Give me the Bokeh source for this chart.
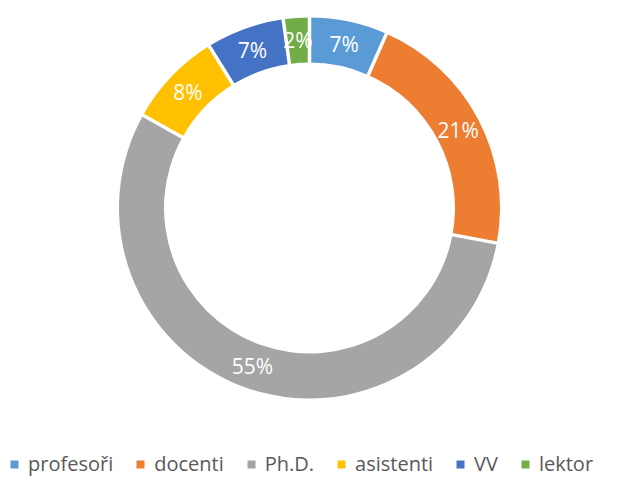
import math
from bokeh.plotting import figure
from bokeh.models import Range1d, ColumnDataSource, Legend, LegendItem
from bokeh.core.properties import value
from bokeh.embed import file_html
from bokeh.resources import INLINE

categories = ["profesoři", "docenti", "Ph.D.", "asistenti", "VV", "lektor"]
counts = [9, 29, 75, 11, 9, 3]
colors = ["#5B9BD5", "#ED7D31", "#A5A5A5", "#FFC000", "#4472C4", "#70AD47"]

W, H = 601, 477
p = figure(width=W, height=H, output_backend="svg", toolbar_location=None,
           x_range=Range1d(0, W), y_range=Range1d(0, H),
           x_axis_location=None, y_axis_location=None, min_border=0)
p.grid.visible = False
p.outline_line_color = None
p.background_fill_color = "white"

cx, cy = 309, H - 207.5
r_out, r_in = 190.5, 145.5
r_lab = 168

total = float(sum(counts))
starts, ends, lx, ly, labels = [], [], [], [], []
cum = 0.0
for c in counts:
    f0 = cum / total
    cum += c
    f1 = cum / total
    starts.append(math.pi / 2 - 2 * math.pi * f0)
    ends.append(math.pi / 2 - 2 * math.pi * f1)
    mid = math.pi / 2 - 2 * math.pi * (f0 + f1) / 2
    lx.append(cx + r_lab * math.cos(mid))
    ly.append(cy + r_lab * math.sin(mid))
    labels.append(f"{round(100 * c / total)}%")

src = ColumnDataSource(dict(lx=lx, ly=ly, lab=labels))

renderers = []
for i in range(len(categories)):
    r = p.annular_wedge(x=cx, y=cy, inner_radius=r_in, outer_radius=r_out,
                        start_angle=starts[i], end_angle=ends[i], direction="clock",
                        fill_color=colors[i], line_color=None)
    renderers.append(r)

# white separators between slices
sx0 = [cx + (r_in - 2) * math.cos(a) for a in starts]
sy0 = [cy + (r_in - 2) * math.sin(a) for a in starts]
sx1 = [cx + (r_out + 2) * math.cos(a) for a in starts]
sy1 = [cy + (r_out + 2) * math.sin(a) for a in starts]
p.segment(x0=sx0, y0=sy0, x1=sx1, y1=sy1, line_color="white", line_width=3.5)

p.text(x="lx", y="ly", text="lab", source=src, text_color="white",
       text_font=value("Open Sans"), text_font_size="21px",
       text_align="center", text_baseline="middle")

items = [LegendItem(label=categories[i], renderers=[renderers[i]])
         for i in range(len(categories))]
legend = Legend(items=items, orientation="horizontal", location=(9, 0),
                glyph_width=10, glyph_height=10, label_standoff=9, spacing=22,
                padding=0, margin=0, border_line_color=None, background_fill_alpha=0,
                label_text_font="Open Sans", label_text_font_size="20px",
                label_text_color="#595959")
p.add_layout(legend, "center")

open("out.html", "w").write(file_html(p, INLINE))
